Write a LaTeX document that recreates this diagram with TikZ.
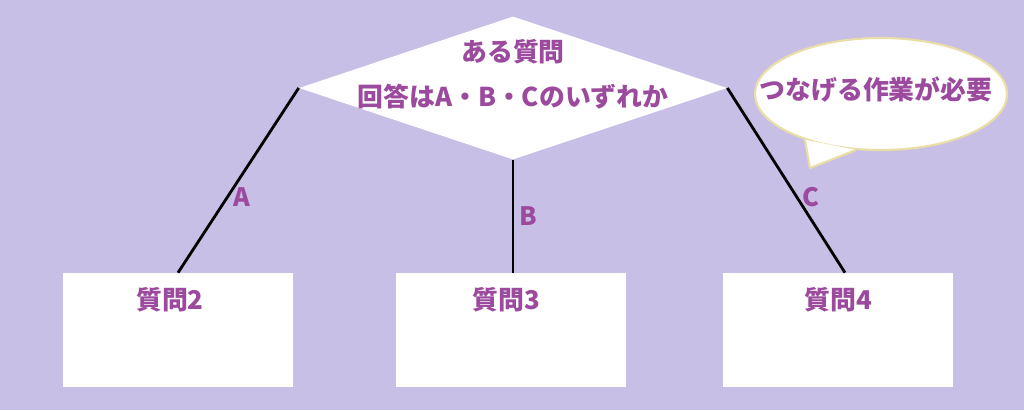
\documentclass[tikz,border=0pt]{standalone}
\usepackage{fontspec}
\setmainfont{Noto Sans CJK JP}
\usetikzlibrary{shapes.geometric}
\definecolor{lavender}{HTML}{C8BFE6}
\definecolor{qpurple}{HTML}{9B4A9E}
\definecolor{pale}{HTML}{E9DFA6}
\tikzset{
  question/.style={diamond, fill=white, minimum width=10.7cm, minimum height=3.575cm, inner sep=0pt},
  answer/.style={rectangle, fill=white, minimum width=5.75cm, minimum height=2.85cm, inner sep=0pt},
  txt/.style={text=qpurple, font=\fontsize{18.4}{22}\selectfont\bfseries, inner sep=0pt},
  lbl/.style={text=qpurple, font=\fontsize{18}{22}\selectfont\bfseries},
  bubble/.style={ellipse, draw=pale, line width=1.5pt, fill=white, minimum width=6.3cm, minimum height=2.8cm, inner sep=0pt},
}
\begin{document}
\begin{tikzpicture}[x=0.025cm, y=-0.025cm]
      \fill[lavender] (0,0) rectangle (1024,410);
      \useasboundingbox (0,0) rectangle (1024,410);
      \path
        (513,88) node[question] (q1){}
        (178,330) node[answer] (b2){}
        (511,330) node[answer] (b3){}
        (838,330) node[answer] (b4){}
        (881,94) node[bubble] (bub){};
      \path
        (513,52) node[txt] (q1a){ある質問}
        (513,97) node[txt] (q1b){回答はA・B・Cのいずれか}
        (170,300) node[txt] (t2){質問2}
        (506,300) node[txt] (t3){質問3}
        (838,300) node[txt] (t4){質問4};
      % tail of the bubble
      \coordinate (tip) at (810,168);
      \fill[white] (bub.211) -- (tip) -- (bub.246) -- cycle;
      \draw[pale, line width=1.5pt] (bub.211) -- (tip) -- (bub.246);
      \path (876,90) node[txt] (note){つなげる作業が必要};
      \begin{scope}[-, line width=2pt]
        \draw (q1.west) to node[lbl, pos=.59, right] (la){A} (b2.north);
        \draw (q1.south) to node[lbl, pos=.5, right] (lb){B} (q1.south |- b3.north);
        \draw (q1.east) to node[lbl, pos=.59, right] (lc){C} ([xshift=0.175cm]b4.north);
      \end{scope}
    \end{tikzpicture}
\end{document}
